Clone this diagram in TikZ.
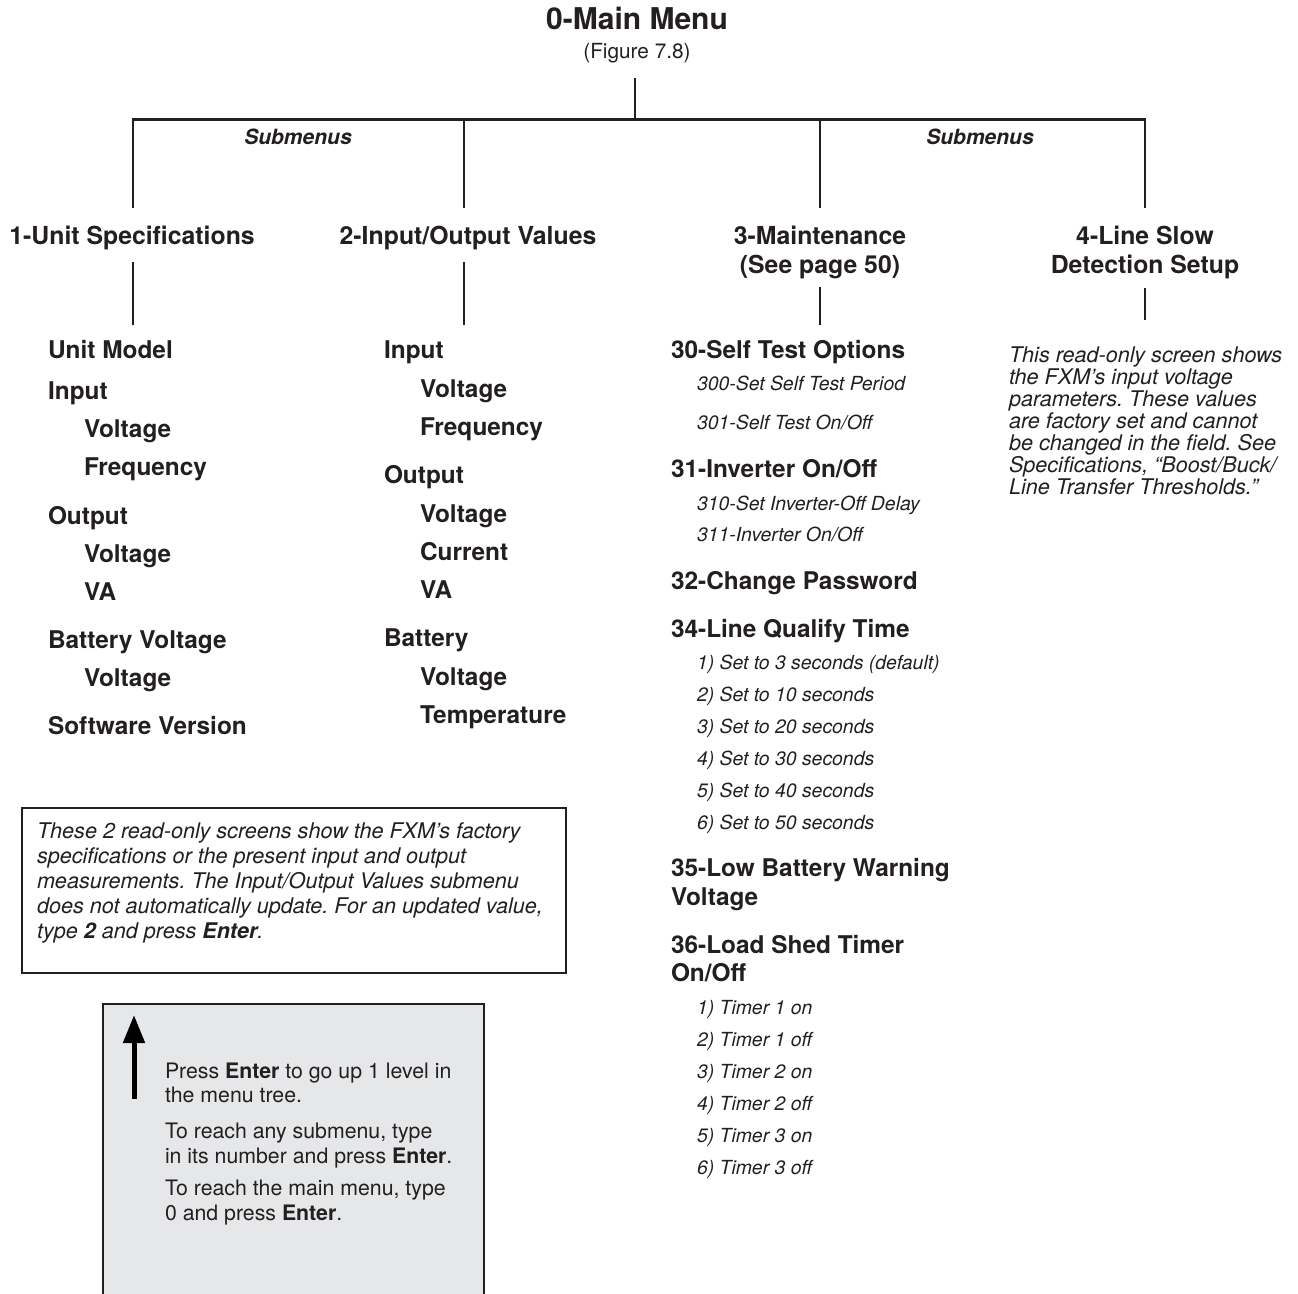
\documentclass[tikz,border=0pt]{standalone}
\usepackage{fontspec}
\setmainfont{TeX Gyre Heros}
\usetikzlibrary{arrows.meta}
\definecolor{ink}{HTML}{231F20}
\definecolor{boxgray}{HTML}{E6E7E8}
\frenchspacing
\tikzset{
  every node/.style={inner sep=0pt, outer sep=0pt, text=ink},
  titlef/.style={font=\fontsize{30}{34}\selectfont\bfseries, anchor=base},
  figf/.style={font=\fontsize{20.8}{24}\selectfont, anchor=base},
  subm/.style={font=\fontsize{21}{24}\selectfont\bfseries\itshape, anchor=base},
  head/.style={font=\fontsize{24.8}{28}\selectfont\bfseries, anchor=base},
  item/.style={font=\fontsize{24.4}{28}\selectfont\bfseries, anchor=base west},
  subit/.style={font=\fontsize{19.4}{22}\selectfont\itshape, anchor=base west},
  para/.style={font=\fontsize{21.6}{24}\selectfont\itshape, anchor=base west},
  boxtxt/.style={font=\fontsize{21.3}{24}\selectfont, anchor=base west},
  link/.style={draw=ink, line width=2.5pt},
  bar/.style={draw=ink, line width=3pt},
  frame/.style={draw=ink, line width=2.5pt}
}
\begin{document}
\begin{tikzpicture}[x=1pt,y=-1pt]
\useasboundingbox (0,0) rectangle (1298,1293);
\fill[white] (0,0) rectangle (1298,1293);

% title
\node[titlef] (title) at (637,29) {0-Main Menu};
\node[figf] (fig) at (637,58) {(Figure 7.8)};

% tree
\coordinate (top) at (635,78);
\coordinate (hub) at (635,119);
\coordinate (d1) at (133,119);
\coordinate (d2) at (464,119);
\coordinate (d3) at (820,119);
\coordinate (d4) at (1145,119);
\coordinate (e1) at (133,208);
\coordinate (e2) at (464,208);
\coordinate (e3) at (820,208);
\coordinate (e4) at (1145,208);
\draw[link] (top) -- (hub);
\draw[bar] ([xshift=-1.25pt]d1) -- ([xshift=1.25pt]d4);
\draw[link] (d1) -- (e1);
\draw[link] (d2) -- (e2);
\draw[link] (d3) -- (e3);
\draw[link] (d4) -- (e4);

\node[subm] (sm1) at (298,144) {Submenus};
\node[subm] (sm2) at (980,144) {Submenus};

% headings
\node[head] (h1) at (132,244) {1-Unit Specifications};
\node[head] (h2) at (468,244) {2-Input/Output Values};
\node[head] (h3) at (820,244) {3-Maintenance};
\node[head] (h3b) at (820,273) {(See page 50)};
\node[head] (h4) at (1145,244) {4-Line Slow};
\node[head] (h4b) at (1145,273) {Detection Setup};

\coordinate (f1) at (133,262);
\coordinate (g1) at (133,325);
\coordinate (f2) at (464,262);
\coordinate (g2) at (464,325);
\coordinate (f3) at (820,287);
\coordinate (g3) at (820,325);
\coordinate (f4) at (1145,288);
\coordinate (g4) at (1145,320);
\draw[link] (f1) -- (g1);
\draw[link] (f2) -- (g2);
\draw[link] (f3) -- (g3);
\draw[link] (f4) -- (g4);

% column 1
\node[item] (a1) at (48,358) {Unit Model};
\node[item] (a2) at (48,399) {Input};
\node[item] (a3) at (84,437) {Voltage};
\node[item] (a4) at (84,475) {Frequency};
\node[item] (a5) at (48,524) {Output};
\node[item] (a6) at (84,562) {Voltage};
\node[item] (a7) at (84,600) {VA};
\node[item] (a8) at (48,648) {Battery Voltage};
\node[item] (a9) at (84,686) {Voltage};
\node[item] (a10) at (48,734) {Software Version};

% column 2
\node[item] (b1) at (384,358) {Input};
\node[item] (b2) at (420,397) {Voltage};
\node[item] (b3) at (420,435) {Frequency};
\node[item] (b4) at (384,483) {Output};
\node[item] (b5) at (420,522) {Voltage};
\node[item] (b6) at (420,560) {Current};
\node[item] (b7) at (420,598) {VA};
\node[item] (b8) at (384,646) {Battery};
\node[item] (b9) at (420,685) {Voltage};
\node[item] (b10) at (420,723) {Temperature};

% column 3
\node[item] (c1) at (671,358) {30-Self Test Options};
\node[subit] (c2) at (697,390) {300-Set Self Test Period};
\node[subit] (c3) at (697,429) {301-Self Test On/Off};
\node[item] (c4) at (671,477) {31-Inverter On/Off};
\node[subit] (c5) at (697,510) {310-Set Inverter-Off Delay};
\node[subit] (c6) at (697,541) {311-Inverter On/Off};
\node[item] (c7) at (671,589) {32-Change Password};
\node[item] (c8) at (671,637) {34-Line Qualify Time};
\node[subit] (c9) at (697,669) {1) Set to 3 seconds (default)};
\node[subit] (c10) at (697,701) {2) Set to 10 seconds};
\node[subit] (c11) at (697,733) {3) Set to 20 seconds};
\node[subit] (c12) at (697,765) {4) Set to 30 seconds};
\node[subit] (c13) at (697,797) {5) Set to 40 seconds};
\node[subit] (c14) at (697,829) {6) Set to 50 seconds};
\node[item] (c15) at (671,876) {35-Low Battery Warning};
\node[item] (c16) at (671,905) {Voltage};
\node[item] (c17) at (671,953) {36-Load Shed Timer};
\node[item] (c18) at (671,981) {On/Off};
\node[subit] (c19) at (697,1014) {1) Timer 1 on};
\node[subit] (c20) at (697,1046) {2) Timer 1 off};
\node[subit] (c21) at (697,1078) {3) Timer 2 on};
\node[subit] (c22) at (697,1110) {4) Timer 2 off};
\node[subit] (c23) at (697,1142) {5) Timer 3 on};
\node[subit] (c24) at (697,1174) {6) Timer 3 off};

% column 4
\node[para] (p1) at (1009,362) {This read-only screen shows};
\node[para] (p2) at (1009,384) {the FXM’s input voltage};
\node[para] (p3) at (1009,406) {parameters. These values};
\node[para] (p4) at (1009,428) {are factory set and cannot};
\node[para] (p5) at (1009,450) {be changed in the field. See};
\node[para] (p6) at (1009,472) {Specifications, “Boost/Buck/};
\node[para] (p7) at (1009,494) {Line Transfer Thresholds.”};

% note box 1
\draw[frame] (22,808) rectangle (566,973);
\node[para] (n1) at (37,838) {These 2 read-only screens show the FXM’s factory};
\node[para] (n2) at (37,863) {specifications or the present input and output};
\node[para] (n3) at (37,888) {measurements. The Input/Output Values submenu};
\node[para] (n4) at (37,913) {does not automatically update. For an updated value,};
\node[para] (n5) at (37,938) {type \textbf{2} and press \textbf{Enter}.};

% note box 2
\draw[frame, fill=boxgray] (103,1310) -- (103,1004) -- (484,1004) -- (484,1310);
\coordinate (arrB) at (134,1099);
\coordinate (arrT) at (134,1015);
\draw[draw=black, line width=5pt, -{Triangle[length=28pt,width=21pt]}] (arrB) -- (arrT);
\node[boxtxt] (k1) at (165,1078) {Press \textbf{Enter} to go up 1 level in};
\node[boxtxt] (k2) at (165,1102) {the menu tree.};
\node[boxtxt] (k3) at (165,1138) {To reach any submenu, type};
\node[boxtxt] (k4) at (165,1163) {in its number and press \textbf{Enter}.};
\node[boxtxt] (k5) at (165,1195) {To reach the main menu, type};
\node[boxtxt] (k6) at (165,1220) {0 and press \textbf{Enter}.};
\end{tikzpicture}
\end{document}
